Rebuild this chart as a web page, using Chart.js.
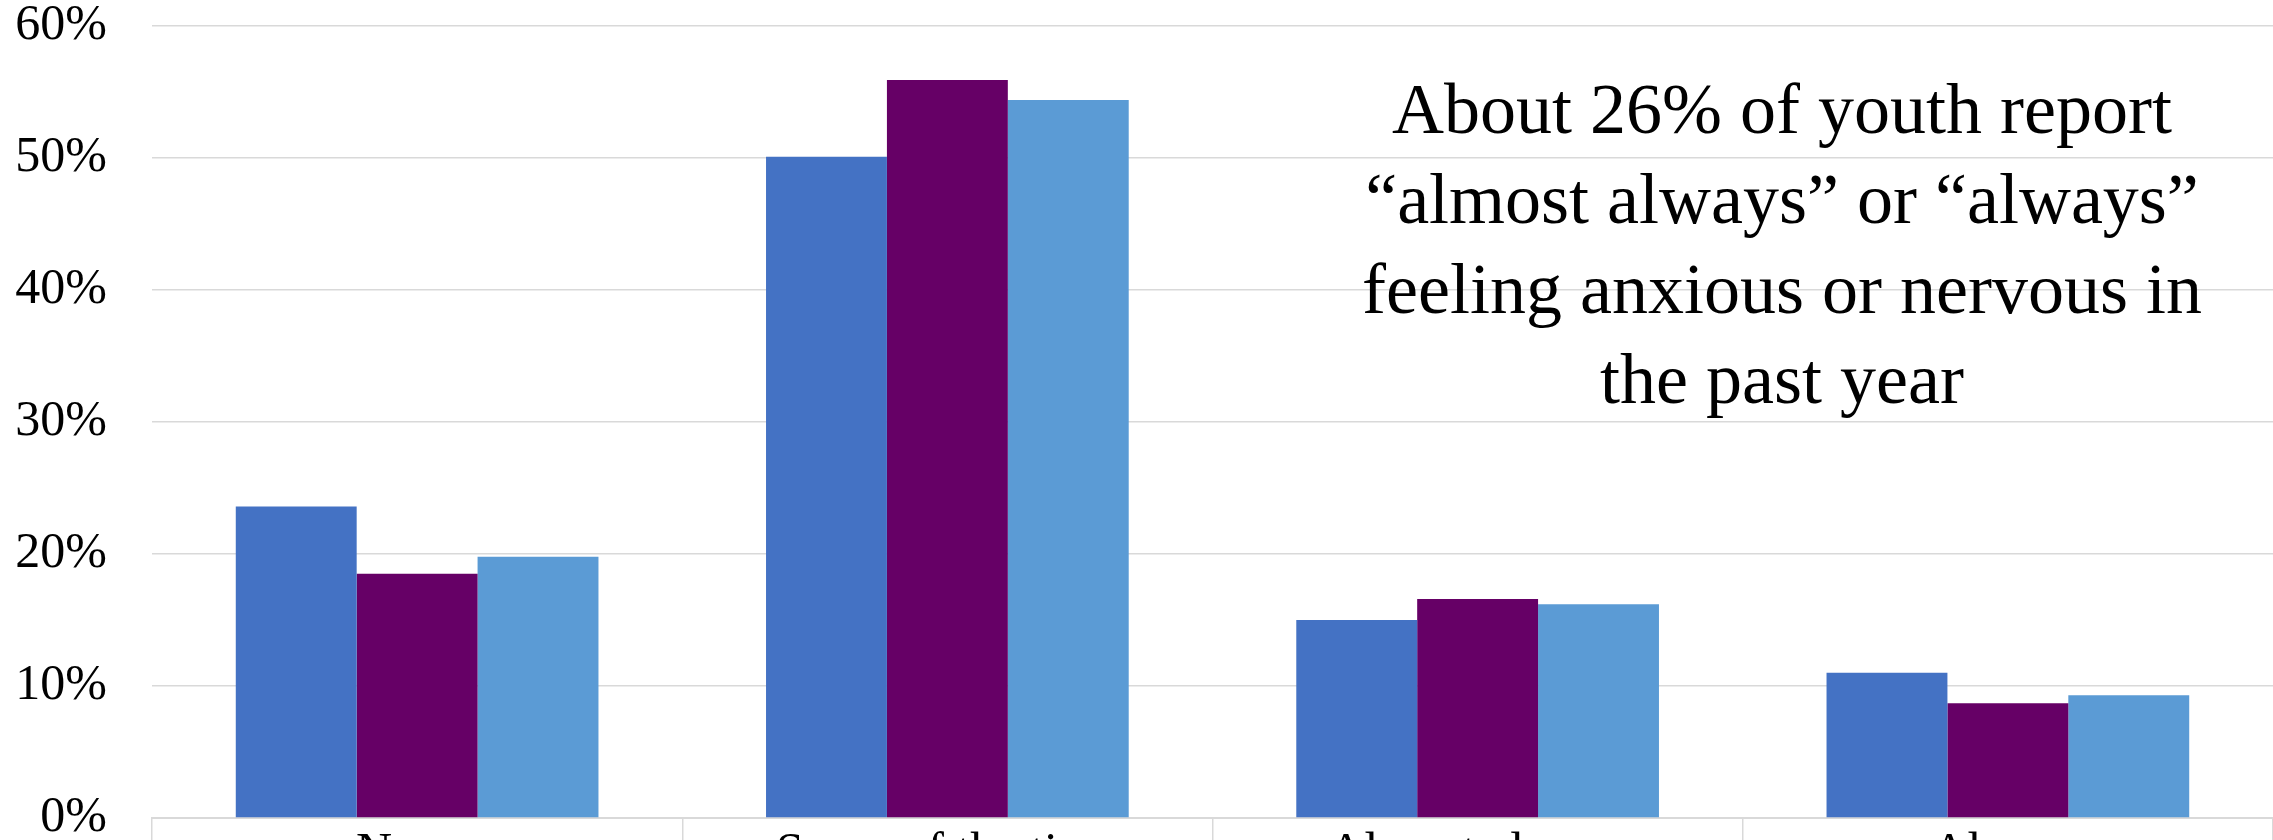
<!DOCTYPE html>
<html>
<head>
<meta charset="utf-8">
<script src="https://cdn.jsdelivr.net/npm/chart.js@4/dist/chart.umd.min.js"></script>
<style>
  html, body { margin: 0; padding: 0; background: #fff; overflow: hidden; }
  canvas { display: block; }
</style>
</head>
<body>
<canvas id="chart" width="2273" height="840"></canvas>
<script>
// values, in percent
const categories = ['Never', 'Some of the time', 'Almost always', 'Always'];
const seriesA = [23.6, 50.1, 15.0, 11.0];
const seriesB = [18.5, 55.9, 16.6, 8.7];
const seriesC = [19.8, 54.4, 16.2, 9.3];
const yTicks = [0, 10, 20, 30, 40, 50, 60];
const noteLines = [
    'About 26% of youth report',
    '\u201calmost always\u201d or \u201calways\u201d',
    'feeling anxious or nervous in',
    'the past year'
];

const serif = '"Liberation Serif", "Times New Roman", serif';
const gridColor = '#d9d9d9';

// the text box sitting over the right half of the plot
const notePlugin = {
    id: 'note',
    afterDraw(chart) {
        const ctx = chart.ctx;
        ctx.save();
        ctx.font = '72px ' + serif;
        ctx.fillStyle = '#000';
        ctx.textAlign = 'center';
        ctx.textBaseline = 'alphabetic';
        noteLines.forEach((line, i) => ctx.fillText(line, 1782, 133 + i * 90));
        ctx.restore();
    }
};

new Chart(document.getElementById('chart'), {
    type: 'bar',
    data: {
        labels: categories,
        datasets: [
            { label: 'Series 1', data: seriesA, backgroundColor: '#4472c4' },
            { label: 'Series 2', data: seriesB, backgroundColor: '#660066' },
            { label: 'Series 3', data: seriesC, backgroundColor: '#5b9bd5' }
        ]
    },
    options: {
        responsive: false,
        animation: false,
        devicePixelRatio: 1,
        layout: { padding: { top: 26, left: 0, right: 0, bottom: 0 } },
        datasets: { bar: { categoryPercentage: 0.684, barPercentage: 1.0 } },
        plugins: {
            legend: { display: false },
            tooltip: { enabled: false }
        },
        scales: {
            x: {
                grid: { offset: true, drawOnChartArea: false, drawTicks: true, tickLength: 22, color: gridColor, lineWidth: 1.5 },
                border: { display: true, color: gridColor, width: 2 },
                ticks: { color: '#000', padding: -11, font: { family: serif, size: 50, lineHeight: 1 } },
                afterFit: s => { s.height = 22; }
            },
            y: {
                min: 0,
                max: 60,
                afterBuildTicks: s => { s.ticks = yTicks.map(v => ({ value: v })); },
                // invisible tick marks keep the labels away from the plot without padding the top
                grid: { drawTicks: true, tickLength: 45, tickColor: 'rgba(0,0,0,0)', color: gridColor, lineWidth: 1.5 },
                border: { display: false },
                ticks: { color: '#000', padding: 0, callback: v => v + '%', font: { family: serif, size: 50, lineHeight: 0.8 } },
                afterFit: s => { s.width = 152; }
            }
        }
    },
    plugins: [notePlugin]
});
</script>
</body>
</html>
